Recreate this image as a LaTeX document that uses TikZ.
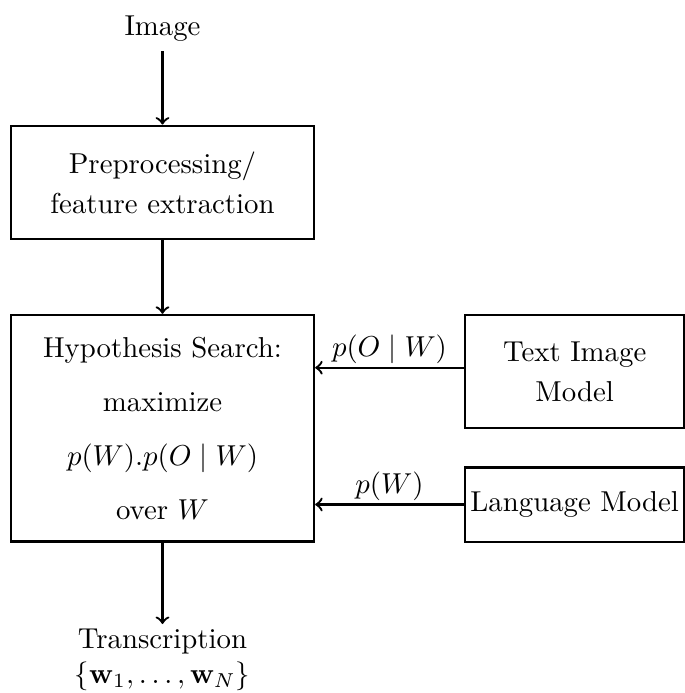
\documentclass[tikz,border=0pt]{standalone}
\usepackage{amsmath}
\usepackage{amssymb}
\begin{document}
\begin{tikzpicture}[x=0.3472pt,y=-0.3472pt,
    box/.style={draw, thick, align=center, inner sep=0pt},
    conn/.style={->, thick},
    lbl/.style={midway, above, inner sep=1pt}]
  \useasboundingbox (0,0) rectangle (685,693);

  % input and output of the pipeline
  \node[anchor=base] (img) at (162.5,35) {Image};
  \node[anchor=north, align=center, inner sep=1.7pt] (trans) at (162.5,624)
    {Transcription\\$\{\mathbf{w}_1,\dots,\mathbf{w}_N\}$};

  % processing stages
  \node[box, minimum width=105.2pt, minimum height=39.4pt] (pre) at (162.5,182.5)
    {Preprocessing/\\[1.9pt]feature extraction};
  \node[box, minimum width=105.2pt, minimum height=78.7pt] (hyp) at (162.5,428.3)
    {Hypothesis Search:\\[6.8pt]maximize\\[6.8pt]$p(W).p(O\mid W)$\\[6.8pt]over $W$};

  % models feeding the search
  \node[box, minimum width=76.2pt, minimum height=39.3pt] (tim) at (574.7,371.7)
    {Text Image\\[1.9pt]Model};
  \node[box, minimum width=76.2pt, minimum height=25.8pt] (lm) at (574.7,504.5)
    {Language Model};

  % connectors
  \draw[conn] (img) -- (pre);
  \draw[conn] (pre) -- (hyp);
  \draw[conn] (hyp) -- (trans);
  \draw[conn] ([yshift=1.4pt]tim.west) -- ([yshift=1.4pt]tim.west -| hyp.east)
    node[lbl] {$p(O\mid W)$};
  \draw[conn] (lm.west) -- (lm.west -| hyp.east)
    node[lbl] {$p(W)$};
\end{tikzpicture}
\end{document}
